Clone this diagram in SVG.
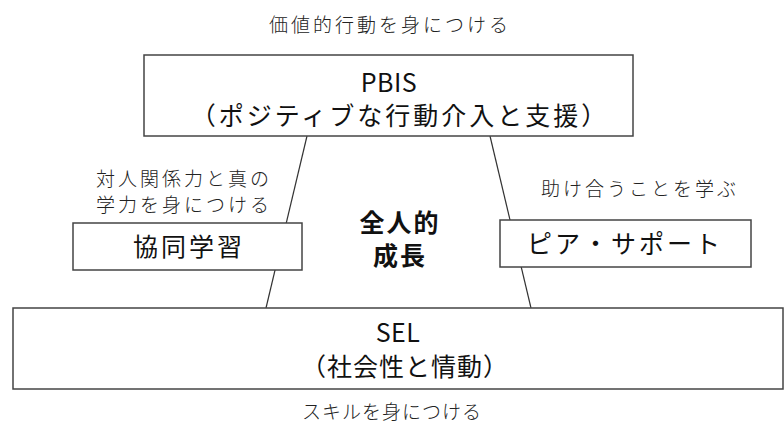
<svg xmlns="http://www.w3.org/2000/svg" width="784" height="439" viewBox="0 0 784 439">
<style>
.box{fill:#fff;stroke:#444;stroke-width:1.5}
.lbl{font-family:"Noto Sans CJK JP","Noto Sans",sans-serif;font-size:19px;letter-spacing:3px;fill:#222;text-anchor:middle;font-weight:300}
.big{font-family:"Noto Sans CJK JP","Noto Sans",sans-serif;font-size:25px;letter-spacing:3px;fill:#111;text-anchor:middle}
.lat{letter-spacing:0.5px}
.mid{font-family:"Noto Sans CJK JP","Noto Sans",sans-serif;font-size:25px;letter-spacing:2px;fill:#111;text-anchor:middle;font-weight:700}
.ln{stroke:#333;stroke-width:1.2;fill:none}
</style>
<rect width="784" height="439" fill="#fff"/>
<g id="connectors">
<line class="ln" x1="307" y1="136" x2="266" y2="308"/>
<line class="ln" x1="490" y1="136" x2="531" y2="308"/>
</g>
<text class="lbl" x="390" y="32">価値的行動を身につける</text>
<g id="pbis">
<rect class="box" x="144" y="55" width="489" height="81"/>
<text class="big lat" x="389" y="92">PBIS</text>
<text class="big" x="400" y="125">（ポジティブな行動介入と支援）</text>
</g>
<text class="lbl" x="184" y="186">対人関係力と真の</text>
<text class="lbl" x="184" y="212">学力を身につける</text>
<g id="kyodo">
<rect class="box" x="73" y="223" width="229" height="47"/>
<text class="big" x="189" y="256">協同学習</text>
</g>
<text class="lbl" x="640" y="196">助け合うことを学ぶ</text>
<g id="peer">
<rect class="box" x="500" y="220" width="251" height="47"/>
<text class="big" x="625" y="253">ピア・サポート</text>
</g>
<g id="center">
<text class="mid" x="400" y="232">全人的</text>
<text class="mid" x="400" y="265">成長</text>
</g>
<g id="sel">
<rect class="box" x="13" y="308" width="770" height="81"/>
<text class="big lat" x="398" y="342">SEL</text>
<text class="big" x="405" y="376" style="letter-spacing:1px">（社会性と情動）</text>
</g>
<text class="lbl" x="392" y="419" style="letter-spacing:1px">スキルを身につける</text>
</svg>
